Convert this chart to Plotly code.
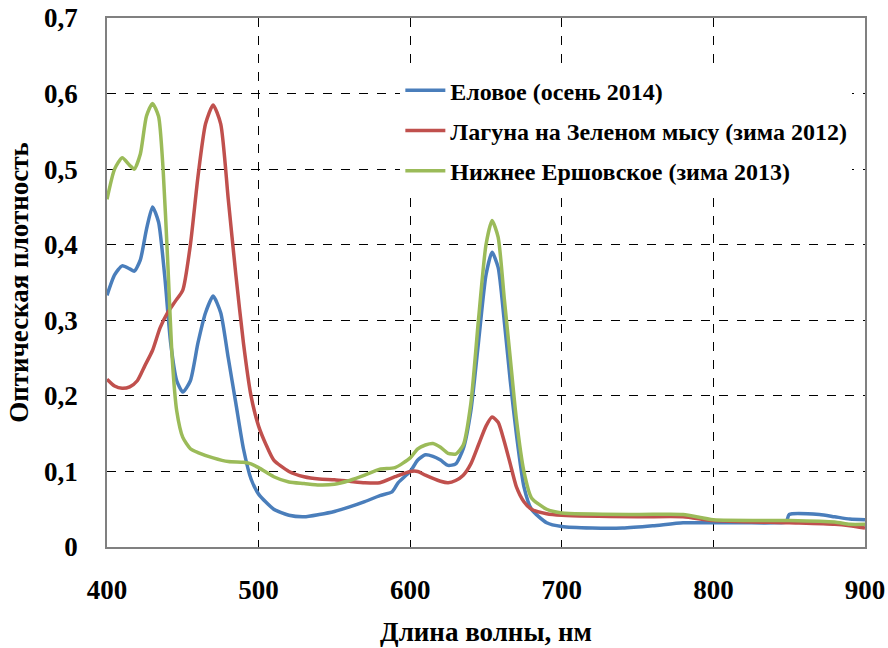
import plotly.graph_objects as go

# Wavelengths (nm) and optical density per series
wl_blue = [400, 405, 410, 415, 418, 422, 426, 430, 434, 438, 442, 446, 450, 455, 460, 465, 470, 475, 480,
           485, 490, 495, 500, 510, 520, 530, 540, 550, 560, 570, 580, 588, 592, 600, 605, 610, 615, 620,
           625, 630, 635, 640, 645, 650, 654, 658, 662, 666, 670, 675, 680, 690, 700, 720, 740, 760, 780,
           800, 820, 840, 848, 850, 870, 880, 890, 900]
od_blue = [0.333, 0.36, 0.372, 0.368, 0.365, 0.38, 0.42, 0.45, 0.43, 0.36, 0.27, 0.22, 0.205, 0.22, 0.27,
           0.31, 0.332, 0.31, 0.25, 0.19, 0.13, 0.09, 0.07, 0.05, 0.042, 0.04, 0.043, 0.047, 0.053, 0.06,
           0.068, 0.073, 0.085, 0.1, 0.115, 0.122, 0.12, 0.115, 0.108, 0.11, 0.13, 0.18, 0.27, 0.36, 0.39,
           0.37, 0.3, 0.22, 0.15, 0.08, 0.05, 0.032, 0.027, 0.025, 0.025, 0.028, 0.032, 0.032, 0.032, 0.032,
           0.033, 0.043, 0.043, 0.04, 0.037, 0.036]

wl_red = [400, 405, 410, 415, 420, 425, 430, 435, 440, 445, 450, 455, 460, 465, 470, 475, 480, 485, 490,
          495, 500, 505, 510, 520, 530, 540, 550, 560, 570, 580, 590, 600, 605, 610, 620, 625, 630, 635,
          640, 645, 650, 654, 658, 662, 666, 670, 675, 680, 690, 700, 750, 780, 800, 850, 880, 890, 900]
od_red = [0.222, 0.213, 0.21, 0.212, 0.22, 0.24, 0.26, 0.29, 0.31, 0.325, 0.34, 0.4, 0.49, 0.56, 0.585,
          0.56, 0.46, 0.36, 0.27, 0.2, 0.16, 0.135, 0.115, 0.1, 0.093, 0.09, 0.089, 0.087, 0.085, 0.085,
          0.093, 0.1, 0.1, 0.095, 0.087, 0.085, 0.088, 0.095, 0.11, 0.135, 0.16, 0.172, 0.165, 0.14, 0.11,
          0.08, 0.06, 0.05, 0.044, 0.042, 0.04, 0.04, 0.035, 0.032, 0.03, 0.028, 0.025]

wl_green = [400, 405, 410, 415, 418, 422, 426, 430, 434, 437, 440, 443, 446, 450, 455, 460, 470, 480, 490,
            495, 500, 510, 520, 530, 540, 550, 560, 570, 580, 590, 600, 605, 610, 615, 620, 625, 630, 635,
            640, 645, 650, 654, 658, 662, 666, 670, 675, 680, 690, 700, 750, 780, 800, 850, 880, 890, 900]
od_green = [0.46, 0.5, 0.515, 0.505, 0.5, 0.52, 0.57, 0.587, 0.57, 0.5, 0.38, 0.25, 0.18, 0.145, 0.13,
            0.125, 0.118, 0.113, 0.112, 0.11, 0.105, 0.093, 0.086, 0.084, 0.082, 0.083, 0.088, 0.095, 0.103,
            0.105, 0.118, 0.13, 0.135, 0.137, 0.132, 0.124, 0.123, 0.135, 0.19, 0.3, 0.4, 0.432, 0.41, 0.33,
            0.25, 0.17, 0.1, 0.065, 0.05, 0.045, 0.043, 0.043, 0.036, 0.035, 0.033, 0.03, 0.03]

names = ["Еловое (осень 2014)", "Лагуна на Зеленом мысу (зима 2012)", "Нижнее Ершовское (зима 2013)"]
colors = ["#4A7EBB", "#C0504D", "#9BBB59"]

y_tickvals = [0, 0.1, 0.2, 0.3, 0.4, 0.5, 0.6, 0.7]
y_ticktext = ["0", "0,1", "0,2", "0,3", "0,4", "0,5", "0,6", "0,7"]
x_tickvals = [400, 500, 600, 700, 800, 900]

FONT = "Liberation Serif"

fig = go.Figure()
for i, (x, y) in enumerate([(wl_blue, od_blue), (wl_red, od_red), (wl_green, od_green)]):
    fig.add_trace(go.Scatter(
        x=x, y=y, mode="lines", name=names[i], legendgroup=f"g{i}",
        line=dict(color=colors[i], width=3.5, shape="spline", smoothing=0.6),
    ))

axis_common = dict(
    showline=True, linecolor="#808080", linewidth=1.5, mirror=True,
    showgrid=True, gridcolor="#000000", griddash="dash", gridwidth=1,
    ticks="", zeroline=False, automargin=False,
    tickfont=dict(family=FONT, size=27, color="black", weight="bold"),
)

fig.update_xaxes(range=[400, 900], tickvals=x_tickvals, ticklabelstandoff=18,
                 title=dict(text="<b>Длина волны, нм</b>", font=dict(family=FONT, size=27, color="black"),
                            standoff=18),
                 **axis_common)
fig.update_yaxes(range=[0, 0.7], tickvals=y_tickvals, ticktext=y_ticktext, ticklabelstandoff=22,
                 title=dict(text="<b>Оптическая плотность</b>", font=dict(family=FONT, size=27, color="black"),
                            standoff=8),
                 **axis_common)

fig.update_layout(
    width=888, height=648,
    margin=dict(l=107, r=23, t=18, b=101),
    plot_bgcolor="white", paper_bgcolor="white",
    font=dict(family=FONT, color="black"),
    legend=dict(x=0.387, y=0.905, xanchor="left", yanchor="top", bgcolor="white",
                font=dict(family=FONT, size=24, color="black", weight="bold"),
                tracegroupgap=6, itemwidth=40),
)

fig.write_html("out.html")
